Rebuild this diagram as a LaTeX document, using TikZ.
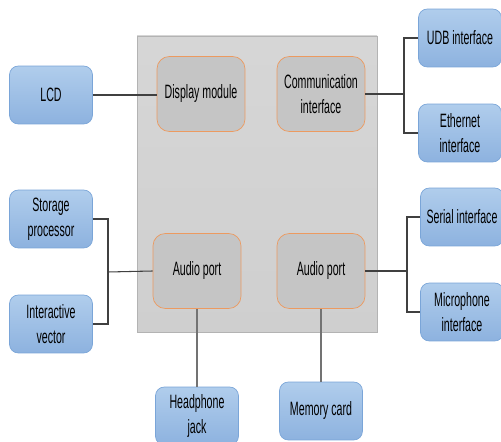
\documentclass[tikz,border=0pt]{standalone}
\usepackage{fontspec}
\setmainfont{Liberation Sans}[FakeStretch=0.55]
\definecolor{boxtop}{HTML}{B0CDEC}
\definecolor{boxbot}{HTML}{8DB2DF}
\definecolor{boxline}{HTML}{7AA5D8}
\definecolor{boardfill}{HTML}{CFCFCF}
\definecolor{boardline}{HTML}{B3B3B3}
\definecolor{modline}{HTML}{EC9A60}
\tikzset{
  unit/.style={draw=boxline, rounded corners=5pt, top color=boxtop, bottom color=boxbot,
    minimum width=1.66cm, minimum height=1.16cm, align=center, inner sep=1pt,
    font=\fontsize{11}{14}\selectfont},
  module/.style={draw=modline, rounded corners=7pt, fill=boardfill!95!black,
    minimum width=1.76cm, minimum height=1.5cm, align=center, inner sep=1pt,
    font=\fontsize{11}{14}\selectfont},
  wire/.style={draw=black!75, line width=0.6pt}
}
\begin{document}
\begin{tikzpicture}[x=0.02cm, y=-0.02cm]
    \useasboundingbox (0,0) rectangle (501,442);
    \clip (0,0) rectangle (501,442);

    \draw[boardline, top color=boardfill!85!white, bottom color=boardfill] (137,36) rectangle (377,332);

    \node[unit] (lcd) at (51,95) {LCD};
    \node[unit] (sto) at (51,219) {Storage\\processor};
    \node[unit] (ivec) at (51,324) {Interactive\\vector};
    \node[unit] (udb) at (460,38) {UDB interface};
    \node[unit] (eth) at (460,133) {Ethernet\\interface};
    \node[unit] (ser) at (462,217) {Serial interface};
    \node[unit] (mic) at (462,312) {Microphone\\interface};
    \node[unit] (hp) at (197,416) {Headphone\\jack};
    \node[unit] (mem) at (321,411) {Memory card};

    \node[module] (disp) at (201,94) {Display module};
    \node[module] (comm) at (321,94) {Communication\\interface};
    \node[module] (audl) at (197,271) {Audio port};
    \node[module] (audr) at (321,271) {Audio port};

    \coordinate (jl) at (108,272);
    \coordinate (jt) at (404,94);
    \coordinate (jb) at (407,271);

    \draw[wire] (lcd.east) -- (lcd.east -| disp.west);
    \draw[wire] (sto.east) -| (jl) |- (ivec.east); \draw[wire] (jl) -- (audl.west);
    \draw[wire] (udb.west) -| (jt) |- (eth.west); \draw[wire] (comm.east) -- (jt);
    \draw[wire] (ser.west) -| (jb) |- (mic.west); \draw[wire] (audr.east) -- (jb);
    \draw[wire, black!55] (audl.south) -- (hp.north);
    \draw[wire, black!55] (audr.south) -- (mem.north);
\end{tikzpicture}
\end{document}
